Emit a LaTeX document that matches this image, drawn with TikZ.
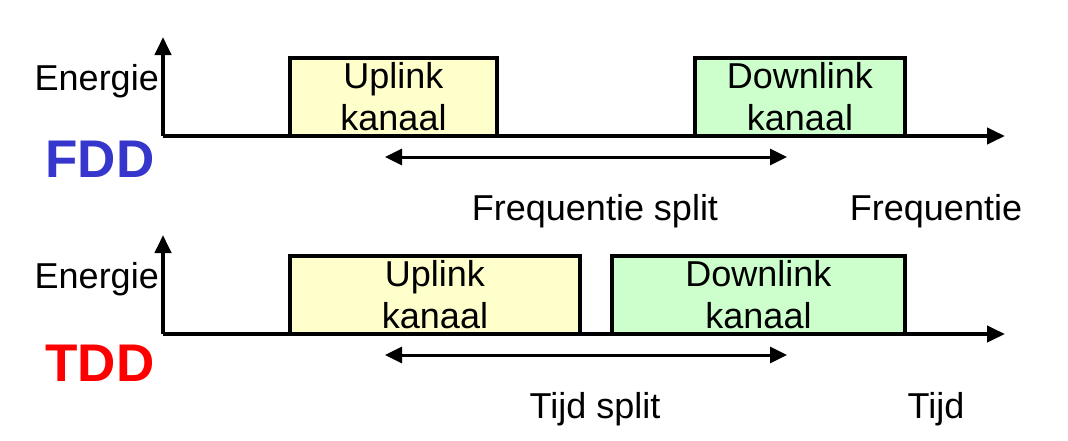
\documentclass[tikz,border=0pt]{standalone}
\usepackage{fontspec}
\setmainfont{Liberation Sans}
\usepackage{xcolor}
\usetikzlibrary{positioning,arrows.meta}

\definecolor{upfill}{HTML}{FFFFCC}
\definecolor{downfill}{HTML}{CCFFCC}
\definecolor{fddblue}{HTML}{3636CC}
\definecolor{tddred}{HTML}{FF0000}

\begin{document}
\begin{tikzpicture}[x=1pt,y=-1pt,
  axis/.style={line width=4pt,-{Triangle[length=18pt,width=16pt]}},
  span/.style={line width=3pt,{Triangle[length=17pt,width=16pt]}-{Triangle[length=17pt,width=16pt]}},
  chan/.style={draw,line width=3.5pt,inner sep=0pt,minimum height=78,align=center,
    font=\fontsize{36}{42}\selectfont},
  txt/.style={font=\fontsize{36}{42}\selectfont,inner sep=0pt}]
  \useasboundingbox (0,0) rectangle (1068,440);

  % twee rijen: FDD en TDD
  \foreach \r/\ay/\ulr/\dll/\cy/\code/\col/\split/\axl in
    {f/136/497/695/159/FDD/fddblue/Frequentie split/Frequentie,
     t/334/580/612/363/TDD/tddred/Tijd split/Tijd}{
    % assen
    \coordinate (o\r) at (163,\ay);
    \coordinate (ytop\r) at (163,\ay-99);
    \coordinate (xend\r) at (1005,\ay);
    \draw[axis] (o\r) -- (ytop\r);
    \draw[axis] (o\r) -- (xend\r);

    % kanalen
    \node[chan,fill=upfill,minimum width=\ulr-290] (up\r) at ({(290+\ulr)/2},\ay-39) {Uplink\\kanaal};
    \node[chan,fill=downfill,minimum width=905-\dll] (down\r) at ({(905+\dll)/2},\ay-39) {Downlink\\kanaal};

    % teksten
    \node[txt,anchor=east] (en\r) at (159,\ay-55) {Energie};
    \node[txt,font=\bfseries\fontsize{53}{60}\selectfont,text=\col] (code\r) at (100,\cy) {\code};
    \node[txt] (split\r) at (595,\ay+75) {\split};
    \node[txt] (axl\r) at (936,\ay+75) {\axl};

    % splitspijl
    \coordinate (sl\r) at (385,\ay+21);
    \coordinate (sr\r) at (787,\ay+21);
    \draw[span] (sl\r) -- (sr\r);
  }
\end{tikzpicture}
\end{document}
